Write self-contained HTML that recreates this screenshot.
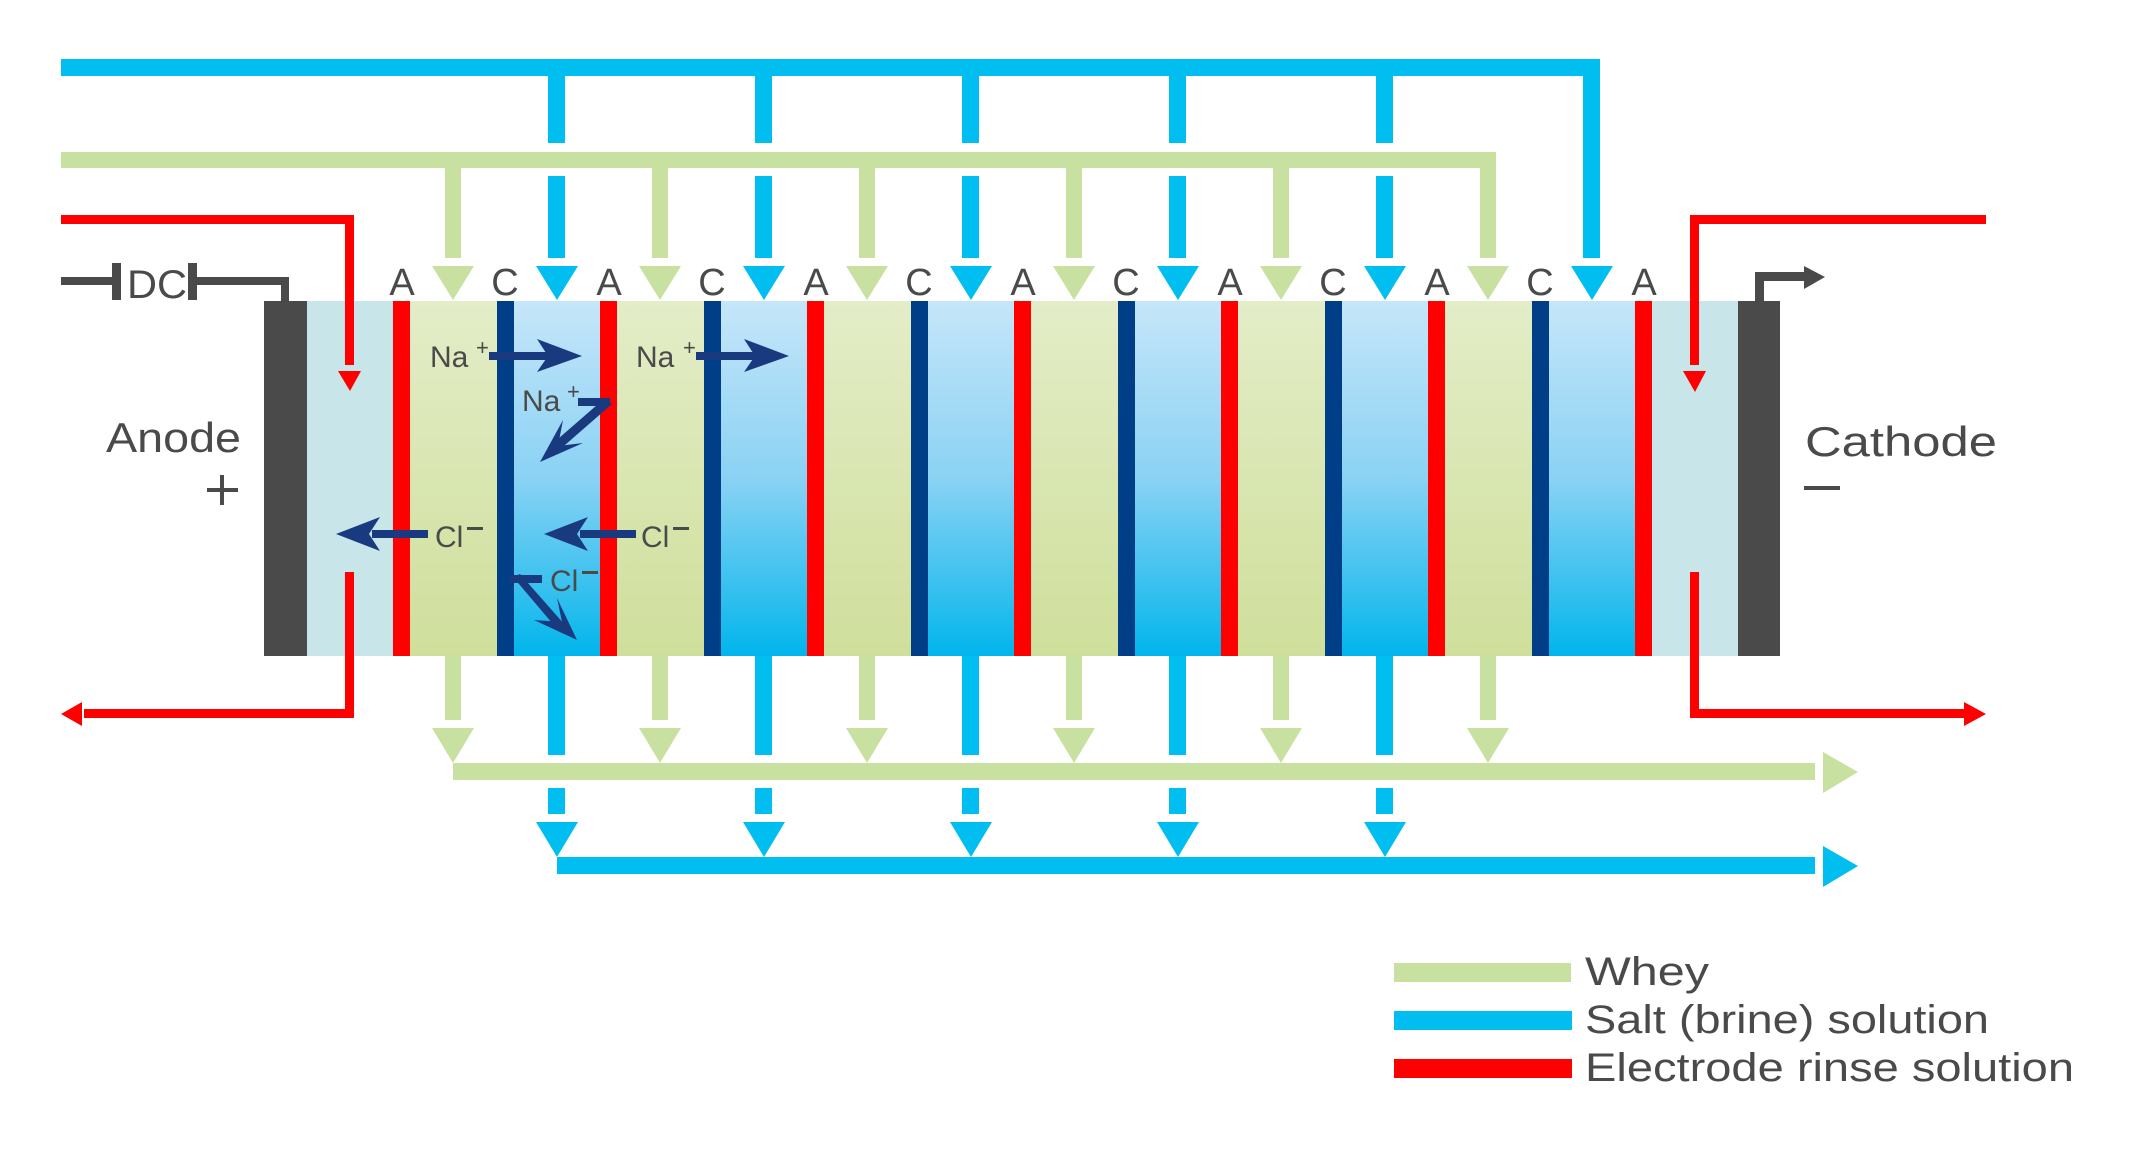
<!DOCTYPE html>
<html><head><meta charset="utf-8"><style>
html,body{margin:0;padding:0;background:#fff;}
svg{display:block;}
text{font-family:"Liberation Sans",sans-serif;fill:#4a4a4a;}
</style></head><body>
<svg width="2134" height="1153" viewBox="0 0 2134 1153" xmlns="http://www.w3.org/2000/svg">
<defs>
<linearGradient id="gb" x1="0" y1="0" x2="0" y2="1">
<stop offset="0" stop-color="#c6e6f9"/><stop offset="0.5" stop-color="#8ad2f4"/><stop offset="0.85" stop-color="#2cbeee"/><stop offset="1" stop-color="#00b5ec"/>
</linearGradient>
<linearGradient id="gg" x1="0" y1="0" x2="0" y2="1">
<stop offset="0" stop-color="#e3edc8"/><stop offset="1" stop-color="#cfdf9b"/>
</linearGradient>
</defs>

<!-- top blue line -->
<rect x="61" y="59" width="1539" height="17" fill="#00bef0"/>
<rect x="1583" y="59" width="17" height="199" fill="#00bef0"/>
<polygon points="1571,266 1613,266 1592,300" fill="#00bef0"/>
<!-- top green line -->
<rect x="61" y="152" width="1435" height="16" fill="#c8e1a0"/>
<rect x="1480" y="152" width="16" height="106" fill="#c8e1a0"/>
<polygon points="1467,266 1509,266 1488,300" fill="#c8e1a0"/>

<g id="topdrops">
<!-- blue drops k=0..4 -->
<g fill="#00bef0">
<rect x="548" y="76" width="17" height="67"/><rect x="548" y="176" width="17" height="82"/><polygon points="536,266 578,266 557,300"/>
<rect x="755" y="76" width="17" height="67"/><rect x="755" y="176" width="17" height="82"/><polygon points="743,266 785,266 764,300"/>
<rect x="962" y="76" width="17" height="67"/><rect x="962" y="176" width="17" height="82"/><polygon points="950,266 992,266 971,300"/>
<rect x="1169" y="76" width="17" height="67"/><rect x="1169" y="176" width="17" height="82"/><polygon points="1157,266 1199,266 1178,300"/>
<rect x="1376" y="76" width="17" height="67"/><rect x="1376" y="176" width="17" height="82"/><polygon points="1364,266 1406,266 1385,300"/>
</g>
<g fill="#c8e1a0">
<rect x="445" y="168" width="16" height="90"/><polygon points="432,266 474,266 453,300"/>
<rect x="652" y="168" width="16" height="90"/><polygon points="639,266 681,266 660,300"/>
<rect x="859" y="168" width="16" height="90"/><polygon points="846,266 888,266 867,300"/>
<rect x="1066" y="168" width="16" height="90"/><polygon points="1053,266 1095,266 1074,300"/>
<rect x="1273" y="168" width="16" height="90"/><polygon points="1260,266 1302,266 1281,300"/>
</g>
</g>

<!-- stack -->
<rect x="264" y="301" width="43" height="355" fill="#4a4a4a"/>
<rect x="307" y="301" width="86" height="355" fill="#c8e5ea"/>
<g>
<rect x="410" y="301" width="87" height="355" fill="url(#gg)"/>
<rect x="514" y="301" width="86" height="355" fill="url(#gb)"/>
<rect x="617" y="301" width="87" height="355" fill="url(#gg)"/>
<rect x="721" y="301" width="86" height="355" fill="url(#gb)"/>
<rect x="824" y="301" width="87" height="355" fill="url(#gg)"/>
<rect x="928" y="301" width="86" height="355" fill="url(#gb)"/>
<rect x="1031" y="301" width="87" height="355" fill="url(#gg)"/>
<rect x="1135" y="301" width="86" height="355" fill="url(#gb)"/>
<rect x="1238" y="301" width="87" height="355" fill="url(#gg)"/>
<rect x="1342" y="301" width="86" height="355" fill="url(#gb)"/>
<rect x="1445" y="301" width="87" height="355" fill="url(#gg)"/>
<rect x="1549" y="301" width="86" height="355" fill="url(#gb)"/>
</g>
<g fill="#ff0000">
<rect x="393" y="301" width="17" height="355"/><rect x="600" y="301" width="17" height="355"/>
<rect x="807" y="301" width="17" height="355"/><rect x="1014" y="301" width="17" height="355"/>
<rect x="1221" y="301" width="17" height="355"/><rect x="1428" y="301" width="17" height="355"/>
<rect x="1635" y="301" width="17" height="355"/>
</g>
<g fill="#003e87">
<rect x="497" y="301" width="17" height="355"/><rect x="704" y="301" width="17" height="355"/>
<rect x="911" y="301" width="17" height="355"/><rect x="1118" y="301" width="17" height="355"/>
<rect x="1325" y="301" width="17" height="355"/><rect x="1532" y="301" width="17" height="355"/>
</g>
<rect x="1652" y="301" width="86" height="355" fill="#c8e5ea"/>
<rect x="1738" y="301" width="42" height="355" fill="#4a4a4a"/>

<!-- A / C labels -->
<g font-size="38" text-anchor="middle">
<text x="402" y="295">A</text><text x="505" y="295">C</text>
<text x="609" y="295">A</text><text x="712" y="295">C</text>
<text x="816" y="295">A</text><text x="919" y="295">C</text>
<text x="1023" y="295">A</text><text x="1126" y="295">C</text>
<text x="1230" y="295">A</text><text x="1333" y="295">C</text>
<text x="1437" y="295">A</text><text x="1540" y="295">C</text>
<text x="1644" y="295">A</text>
</g>

<!-- DC -->
<rect x="61" y="277" width="55" height="8" fill="#4a4a4a"/>
<rect x="112" y="263" width="9" height="37" fill="#4a4a4a"/>
<text x="127" y="298" font-size="40" textLength="60" lengthAdjust="spacingAndGlyphs">DC</text>
<rect x="188" y="263" width="9" height="37" fill="#4a4a4a"/>
<rect x="193" y="277" width="96" height="8" fill="#4a4a4a"/>
<rect x="281" y="277" width="8" height="25" fill="#4a4a4a"/>
<!-- cathode connector -->
<rect x="1755" y="272" width="9" height="30" fill="#4a4a4a"/>
<rect x="1755" y="272" width="50" height="9" fill="#4a4a4a"/>
<polygon points="1804,266 1825,277 1804,289" fill="#4a4a4a"/>

<!-- Anode / Cathode -->
<text x="106" y="452" font-size="42" textLength="135" lengthAdjust="spacingAndGlyphs">Anode</text>
<rect x="207" y="488" width="31" height="4" fill="#4a4a4a"/><rect x="220" y="475" width="4" height="30" fill="#4a4a4a"/>
<text x="1805" y="456" font-size="42" textLength="192" lengthAdjust="spacingAndGlyphs">Cathode</text>
<rect x="1804" y="486" width="36" height="4" fill="#4a4a4a"/>

<!-- red rinse -->
<g fill="#ff0000">
<rect x="61" y="215" width="293" height="9"/><rect x="345" y="215" width="9" height="150"/>
<polygon points="338,371 361,371 350,391"/>
<rect x="345" y="572" width="9" height="146"/><rect x="84" y="709" width="270" height="9"/>
<polygon points="82,702 82,726 61,714"/>
<rect x="1690" y="215" width="296" height="9"/><rect x="1690" y="215" width="9" height="150"/>
<polygon points="1683,371 1706,371 1695,392"/>
<rect x="1690" y="572" width="9" height="146"/><rect x="1690" y="709" width="274" height="9"/>
<polygon points="1964,702 1964,726 1986,714"/>
</g>

<!-- bottom -->
<g fill="#c8e1a0">
<rect x="445" y="656" width="16" height="64"/><polygon points="432,728 474,728 453,763"/>
<rect x="652" y="656" width="16" height="64"/><polygon points="639,728 681,728 660,763"/>
<rect x="859" y="656" width="16" height="64"/><polygon points="846,728 888,728 867,763"/>
<rect x="1066" y="656" width="16" height="64"/><polygon points="1053,728 1095,728 1074,763"/>
<rect x="1273" y="656" width="16" height="64"/><polygon points="1260,728 1302,728 1281,763"/>
<rect x="1480" y="656" width="16" height="64"/><polygon points="1467,728 1509,728 1488,763"/>
<rect x="453" y="763" width="1362" height="17"/>
<polygon points="1823,752 1823,793 1858,772"/>
</g>
<g fill="#00bef0">
<rect x="548" y="656" width="17" height="99"/><rect x="548" y="788" width="17" height="26"/><polygon points="536,822 578,822 557,857"/>
<rect x="755" y="656" width="17" height="99"/><rect x="755" y="788" width="17" height="26"/><polygon points="743,822 785,822 764,857"/>
<rect x="962" y="656" width="17" height="99"/><rect x="962" y="788" width="17" height="26"/><polygon points="950,822 992,822 971,857"/>
<rect x="1169" y="656" width="17" height="99"/><rect x="1169" y="788" width="17" height="26"/><polygon points="1157,822 1199,822 1178,857"/>
<rect x="1376" y="656" width="17" height="99"/><rect x="1376" y="788" width="17" height="26"/><polygon points="1364,822 1406,822 1385,857"/>
<rect x="557" y="857" width="1258" height="17"/>
<polygon points="1823,846 1823,887 1858,866"/>
</g>

<!-- ion arrows -->
<g fill="#1a3a80" stroke="none">
<!-- Na+ 1 -->
<rect x="489" y="352" width="60" height="8"/><polygon points="582,356 537,339 548,356 537,372"/>
<!-- Na+ 2 -->
<rect x="696" y="352" width="60" height="8"/><polygon points="789,356 744,339 755,356 744,372"/>
<!-- Na+ diag -->
<rect x="578" y="398" width="32" height="8"/>
<polygon points="605,398 612,404 557,452 551,445"/>
<polygon points="540,462 563,420 558,446 583,443"/>
<!-- Cl- 1 -->
<rect x="372" y="530" width="56" height="8"/><polygon points="336,534 380,517 369,534 380,551"/>
<!-- Cl- 2 -->
<rect x="580" y="530" width="56" height="8"/><polygon points="544,534 588,517 577,534 588,551"/>
<!-- Cl- diag -->
<rect x="510" y="575" width="32" height="8"/>
<polygon points="513,577 520,574 565,625 558,630"/>
<polygon points="577,640 557,598 562,622 534,620"/>
</g>
<g font-size="30">
<text x="430" y="367">Na</text><text x="476" y="355" font-size="22">+</text>
<text x="636" y="367">Na</text><text x="683" y="355" font-size="22">+</text>
<text x="522" y="411">Na</text><text x="567" y="399" font-size="22">+</text>
<text x="435" y="547">Cl</text><rect x="467" y="527" width="16" height="3" fill="#4a4a4a"/>
<text x="641" y="547">Cl</text><rect x="673" y="527" width="16" height="3" fill="#4a4a4a"/>
<text x="550" y="591">Cl</text><rect x="582" y="571" width="16" height="3" fill="#4a4a4a"/>
</g>

<!-- legend -->
<rect x="1394" y="963" width="177" height="19" fill="#c8e1a0"/>
<rect x="1394" y="1011" width="178" height="19" fill="#00bef0"/>
<rect x="1394" y="1059" width="178" height="19" fill="#ff0000"/>
<g font-size="40">
<text x="1585" y="985" textLength="124" lengthAdjust="spacingAndGlyphs">Whey</text>
<text x="1585" y="1033" textLength="404" lengthAdjust="spacingAndGlyphs">Salt (brine) solution</text>
<text x="1585" y="1081" textLength="489" lengthAdjust="spacingAndGlyphs">Electrode rinse solution</text>
</g>
</svg>
</body></html>
